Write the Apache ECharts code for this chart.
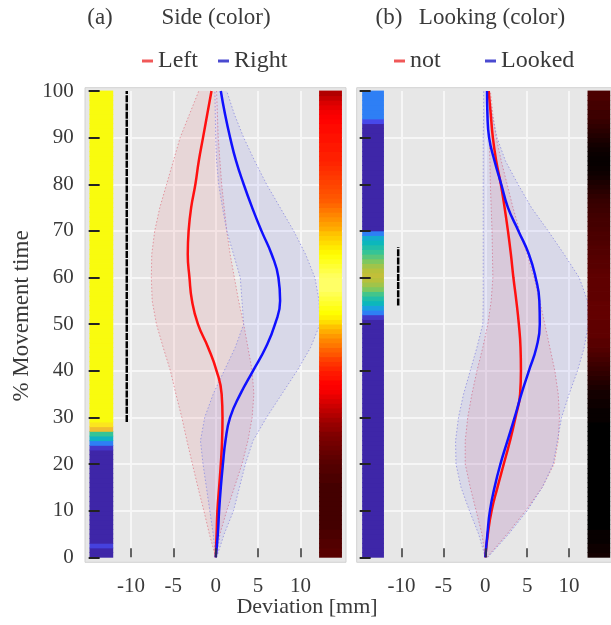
<!DOCTYPE html>
<html><head><meta charset="utf-8">
<script src="https://cdn.jsdelivr.net/npm/echarts@6/dist/echarts.min.js"></script>
<style>html,body{margin:0;padding:0;background:#fff}#c{width:611px;height:625px}</style>
</head><body><div id="c"></div>
<script>
// ---------- data ----------
const yPct = [0,5,10,15,20,25,30,35,40,45,50,55,60,65,70,75,80,85,90,95,100];

// Panel (a) Side
const sideLeftMean  = [0,0.1,0.2,0.4,0.6,0.75,0.8,0.7,0.1,-0.9,-2.1,-2.8,-3.1,-3.3,-3.2,-2.9,-2.4,-2.0,-1.5,-1.0,-0.5];
const sideRightMean = [0,0.25,0.4,0.6,0.85,1.15,1.7,2.9,4.4,5.9,7.0,7.6,7.4,6.6,5.4,4.3,3.3,2.4,1.7,1.1,0.6];
const sideLeftLo  = [0,-0.75,-1.4,-2.1,-2.75,-3.4,-4.0,-4.7,-5.35,-6.2,-7.0,-7.5,-7.6,-7.55,-7.2,-6.6,-5.8,-5.0,-4.2,-3.1,-2.0];
const sideLeftHi  = [0.1,0.5,1.3,2.2,3.1,3.8,4.3,4.5,4.3,3.8,3.3,2.7,2.2,1.7,1.3,1.0,0.7,0.5,0.3,0.2,0.1];
const sideRightLo = [0,-0.3,-0.7,-1.1,-1.5,-1.8,-1.3,-0.3,1.0,2.3,3.3,3.1,2.9,2.1,1.3,0.8,0.35,0.1,0.0,-0.05,-0.1];
const sideRightHi = [0.1,1.0,2.1,2.8,3.5,4.4,6.0,7.8,9.6,11.2,12.3,12.2,11.7,10.6,9.2,7.6,6.0,4.6,3.3,2.2,1.3];

// Panel (b) Looking
const lookNotMean    = [0,0.3,0.75,1.45,2.2,2.95,3.6,4.15,4.25,4.2,4.0,3.7,3.35,3.05,2.7,2.3,1.85,1.3,0.9,0.65,0.4];
const lookLookedMean = [0,0.25,0.55,1.1,1.8,2.65,3.5,4.3,5.2,6.1,6.5,6.45,6.0,5.2,3.95,2.7,1.9,1.1,0.45,0.25,0.2];
const lookNotLo    = [0,-0.4,-1.1,-1.8,-2.4,-2.4,-2.1,-1.6,-1.0,-0.3,0.3,0.7,0.9,0.85,0.8,0.7,0.6,0.55,0.45,0.3,0.2];
const lookNotHi    = [0.2,2.6,4.8,6.8,8.2,8.7,8.85,8.7,8.3,7.7,7.1,6.5,5.8,5.0,4.1,3.3,2.6,1.9,1.3,0.9,0.6];
const lookLookedLo = [0,-0.8,-1.9,-2.9,-3.5,-3.55,-3.2,-2.6,-1.8,-1.0,-0.3,-0.25,-0.25,-0.25,-0.25,-0.25,-0.25,-0.25,-0.25,-0.2,-0.2];
const lookLookedHi = [0.3,2.8,5.0,6.8,8.1,8.6,9.1,10.0,11.0,11.8,12.3,12.2,11.2,9.4,7.5,5.5,3.9,2.4,1.4,0.8,0.4];

// significance markers: [x, yFrom, yTo]
const sideSig = [-10.5, 29, 100];
const lookSig = [-10.4, 54, 66.5];

// colour strips: one value (0..1) per 1 % of movement time, from 0 upward
const sideParula = [0,0,0.08,0,0,0,0,0,0,0, 0,0,0,0,0,0,0,0,0,0, 0,0,0,0.05,0.2,0.38,0.5,0.82,0.95,1,
  1,1,1,1,1,1,1,1,1,1, 1,1,1,1,1,1,1,1,1,1, 1,1,1,1,1,1,1,1,1,1, 1,1,1,1,1,1,1,1,1,1, 1,1,1,1,1,1,1,1,1,1, 1,1,1,1,1,1,1,1,1,1, 1,1,1,1,1,1,1,1,1,1];
const sideHot = [.13,.13,.12,.12,.11,.11,.10,.10,.10,.10, .10,.10,.10,.10,.10,.10,.11,.11,.12,.12,
  .13,.14,.15,.16,.17,.18,.19,.21,.22,.24, .26,.28,.30,.32,.34,.36,.37,.38,.40,.41,
  .43,.45,.47,.50,.52,.55,.57,.60,.63,.66, .70,.73,.75,.77,.79,.81,.83,.85,.85,.85,
  .84,.82,.80,.78,.76,.74,.72,.70,.68,.66, .63,.61,.59,.57,.55,.53,.51,.50,.49,.48,
  .47,.46,.45,.44,.43,.42,.42,.41,.41,.40, .40,.39,.39,.38,.37,.36,.34,.32,.29,.26];
const lookParula = [0,0,0,0,0,0,0,0,0,0, 0,0,0,0,0,0,0,0,0,0, 0,0,0,0,0,0,0,0,0,0, 0,0,0,0,0,0,0,0,0,0,
  0,0,0,0,0,0,0,0,0,0, 0,0.05,0.2,0.3,0.4,0.45,0.52,0.6,0.66,0.7, 0.72,0.7,0.66,0.6,0.55,0.5,0.45,0.4,0.35,0.2,
  0,0,0,0,0,0,0,0,0,0, 0,0,0,0,0,0,0,0,0,0, 0,0,0,0.1,0.2,0.2,0.2,0.2,0.2,0.2];
const lookHot = [.03,.02,.02,.01,.01,.01,0,0,0,0, 0,0,0,0,0,0,0,0,0,0, 0,0,0,0,0,0,0,0,0,.01,
  .01,.01,.02,.02,.03,.03,.04,.05,.06,.07, .08,.09,.10,.11,.12,.13,.13,.14,.14,.14,
  .14,.145,.145,.145,.145,.14,.14,.14,.14,.14, .14,.135,.13,.13,.125,.12,.12,.115,.11,.11,
  .105,.10,.10,.095,.09,.085,.08,.07,.06,.05, .04,.03,.02,.015,.01,.01,.015,.02,.03,.04,
  .05,.06,.07,.08,.09,.09,.10,.10,.11,.11];

const xTicks = [-10,-5,0,5,10];
const yTicks = [0,10,20,30,40,50,60,70,80,90,100];

// ---------- styling ----------
const FONT = '"Liberation Serif", "DejaVu Serif", serif';
const TXT = '#3a3a3a';
const parulaStops = [[0,[62,38,168]],[0.1,[71,72,234]],[0.2,[46,127,245]],[0.3,[27,160,224]],[0.4,[12,183,188]],
  [0.5,[53,196,150]],[0.6,[125,200,96]],[0.7,[183,193,59]],[0.8,[236,185,47]],[0.9,[252,207,47]],[1,[249,251,14]]];
function parula(t){
  t=Math.max(0,Math.min(1,t));
  for(let i=1;i<parulaStops.length;i++){
    if(t<=parulaStops[i][0]){
      const a=parulaStops[i-1],b=parulaStops[i],f=(t-a[0])/(b[0]-a[0]);
      const c=a[1].map((v,k)=>Math.round(v+(b[1][k]-v)*f));
      return 'rgb('+c.join(',')+')';
    }
  }
  return 'rgb(249,251,14)';
}
function hot(t){
  const cl=v=>Math.max(0,Math.min(1,v));
  const r=cl(t/0.375),g=cl((t-0.375)/0.375),b=cl((t-0.75)/0.25);
  return 'rgb('+[r,g,b].map(v=>Math.round(v*255)).join(',')+')';
}

const G = [{left:88.65, top:91, width:254.15, height:466.3},{left:359.65, top:91, width:254.15, height:466.3}];

function axesFor(g, showYLabels){
  const xs=[{gridIndex:g,type:'value',min:-15,max:15,interval:5,z:0,
      axisLine:{show:false,onZero:false},axisTick:{show:false},axisLabel:{show:false},
      splitLine:{show:true,showMinLine:false,showMaxLine:false,lineStyle:{color:'#f6f6f6',width:2}}},
    {gridIndex:g,type:'value',min:-15,max:15,interval:5,position:'bottom',z:6,
      axisLine:{show:false,onZero:false},
      axisTick:{show:true,inside:true,length:9,customValues:xTicks,lineStyle:{color:'#333',width:1.5}},
      axisLabel:{show:true,customValues:xTicks,margin:19,fontFamily:FONT,fontSize:21,color:TXT},
      splitLine:{show:false}}];
  const ys=[{gridIndex:g,type:'value',min:0,max:100,interval:10,z:0,
      axisLine:{show:false,onZero:false},axisTick:{show:false},axisLabel:{show:false},
      splitLine:{show:true,showMinLine:false,showMaxLine:false,lineStyle:{color:'#f6f6f6',width:2}}},
    {gridIndex:g,type:'value',min:0,max:100,interval:10,position:'left',z:6,
      axisLine:{show:false,onZero:false},
      axisTick:{show:true,inside:true,length:11,customValues:yTicks,lineStyle:{color:'#222',width:2}},
      axisLabel:{show:showYLabels,customValues:yTicks,margin:15,fontFamily:FONT,fontSize:21,color:TXT},
      splitLine:{show:false}}];
  return {xs,ys};
}
const a0=axesFor(0,true), a1=axesFor(1,false);

function band(name, ax, lo, hi, fill, edge){
  return {type:'custom',name:name+'band',xAxisIndex:ax*2,yAxisIndex:ax*2,z:1,silent:true,
    data:[[0,50]],
    renderItem:function(params,api){
      const L=yPct.map((y,i)=>api.coord([lo[i],y]));
      const H=yPct.map((y,i)=>api.coord([hi[i],y]));
      const poly=L.concat(H.slice().reverse());
      return {type:'group',children:[
        {type:'polygon',shape:{points:poly,smooth:0},style:{fill:fill}},
        {type:'polyline',shape:{points:L},style:{stroke:edge,lineWidth:1,lineDash:[1.5,2],fill:null}},
        {type:'polyline',shape:{points:H},style:{stroke:edge,lineWidth:1,lineDash:[1.5,2],fill:null}}
      ]};
    }};
}
function line(name, ax, mean, color){
  return {type:'line',name:name,xAxisIndex:ax*2,yAxisIndex:ax*2,z:3,
    data:yPct.map((y,i)=>[mean[i],y]),smooth:0.5,symbol:'none',
    lineStyle:{color:color,width:2.5},itemStyle:{color:color}};
}
function strip(ax, vals, cmap, x0, x1){
  return {type:'custom',xAxisIndex:ax*2,yAxisIndex:ax*2,z:4,silent:true,data:[[0,50]],
    renderItem:function(params,api){
      const ch=vals.map((v,i)=>{
        const p0=api.coord([x0,i+1]), p1=api.coord([x1,i]);
        return {type:'rect',shape:{x:p0[0],y:p0[1]-0.4,width:p1[0]-p0[0],height:p1[1]-p0[1]+0.8},style:{fill:cmap(v)}};
      });
      return {type:'group',children:ch};
    }};
}
function sig(ax, s){
  return {type:'line',xAxisIndex:ax*2,yAxisIndex:ax*2,z:5,silent:true,symbol:'none',
    data:[[s[0],s[1]],[s[0],s[2]]],lineStyle:{color:'#000',width:2.5,type:[7,1.2]}};
}

const series=[
  band('Left',0,sideLeftLo,sideLeftHi,'rgba(230,30,50,0.085)','rgba(225,140,150,0.9)'),
  band('Right',0,sideRightLo,sideRightHi,'rgba(40,40,255,0.075)','rgba(150,150,225,0.9)'),
  band('not',1,lookNotLo,lookNotHi,'rgba(230,30,50,0.085)','rgba(225,140,150,0.9)'),
  band('Looked',1,lookLookedLo,lookLookedHi,'rgba(40,40,255,0.075)','rgba(150,150,225,0.9)'),
  line('Left',0,sideLeftMean,'#ff1010'),
  line('Right',0,sideRightMean,'#1010ff'),
  line('not',1,lookNotMean,'#ff1010'),
  line('Looked',1,lookLookedMean,'#1010ff'),
  strip(0,sideParula,parula,-14.9,-12.1),
  strip(0,sideHot,hot,12.2,14.9),
  strip(1,lookParula,parula,-14.7,-12.1),
  strip(1,lookHot,hot,12.2,14.9),
  sig(0,sideSig),
  sig(1,lookSig)
];

function lg(name,left,color){
  return {data:[name],left:left,top:49,padding:0,itemWidth:11,itemHeight:3,icon:'rect',
    itemStyle:{color:color},textStyle:{fontFamily:FONT,fontSize:24,color:TXT},selectedMode:false};
}

const chart=echarts.init(document.getElementById('c'),null,{renderer:'canvas'});
chart.setOption({
  animation:false,
  backgroundColor:'#fff',
  grid:G,
  xAxis:[...a0.xs,...a1.xs],
  yAxis:[...a0.ys,...a1.ys],
  legend:[lg('Left',142,'#f05858'),lg('Right',218,'#4a4ad0'),lg('not',394,'#f05858'),lg('Looked',485,'#4a4ad0')],
  graphic:[
    {type:'rect',z:-100,silent:true,shape:{x:85,y:87.7,width:261,height:474.6},style:{fill:'#e7e7e7',stroke:'#d2d2d2',lineWidth:1}},
    {type:'rect',z:-100,silent:true,shape:{x:356.7,y:87.7,width:270,height:474.6},style:{fill:'#e7e7e7',stroke:'#d2d2d2',lineWidth:1}},
    {type:'text',x:100,y:18,style:{text:'(a)',font:'23px '+FONT,fill:TXT,textAlign:'center',textVerticalAlign:'middle'}},
    {type:'text',x:216,y:18,style:{text:'Side (color)',font:'23px '+FONT,fill:TXT,textAlign:'center',textVerticalAlign:'middle'}},
    {type:'text',x:389,y:18,style:{text:'(b)',font:'23px '+FONT,fill:TXT,textAlign:'center',textVerticalAlign:'middle'}},
    {type:'text',x:492,y:18,style:{text:'Looking (color)',font:'23px '+FONT,fill:TXT,textAlign:'center',textVerticalAlign:'middle'}},
    {type:'text',x:307,y:607,style:{text:'Deviation [mm]',font:'22px '+FONT,fill:TXT,textAlign:'center',textVerticalAlign:'middle'}},
    {type:'text',x:22,y:316,rotation:Math.PI/2,style:{text:'% Movement time',font:'23px '+FONT,fill:TXT,textAlign:'center',textVerticalAlign:'middle'}}
  ],
  series:series
});
</script></body></html>
